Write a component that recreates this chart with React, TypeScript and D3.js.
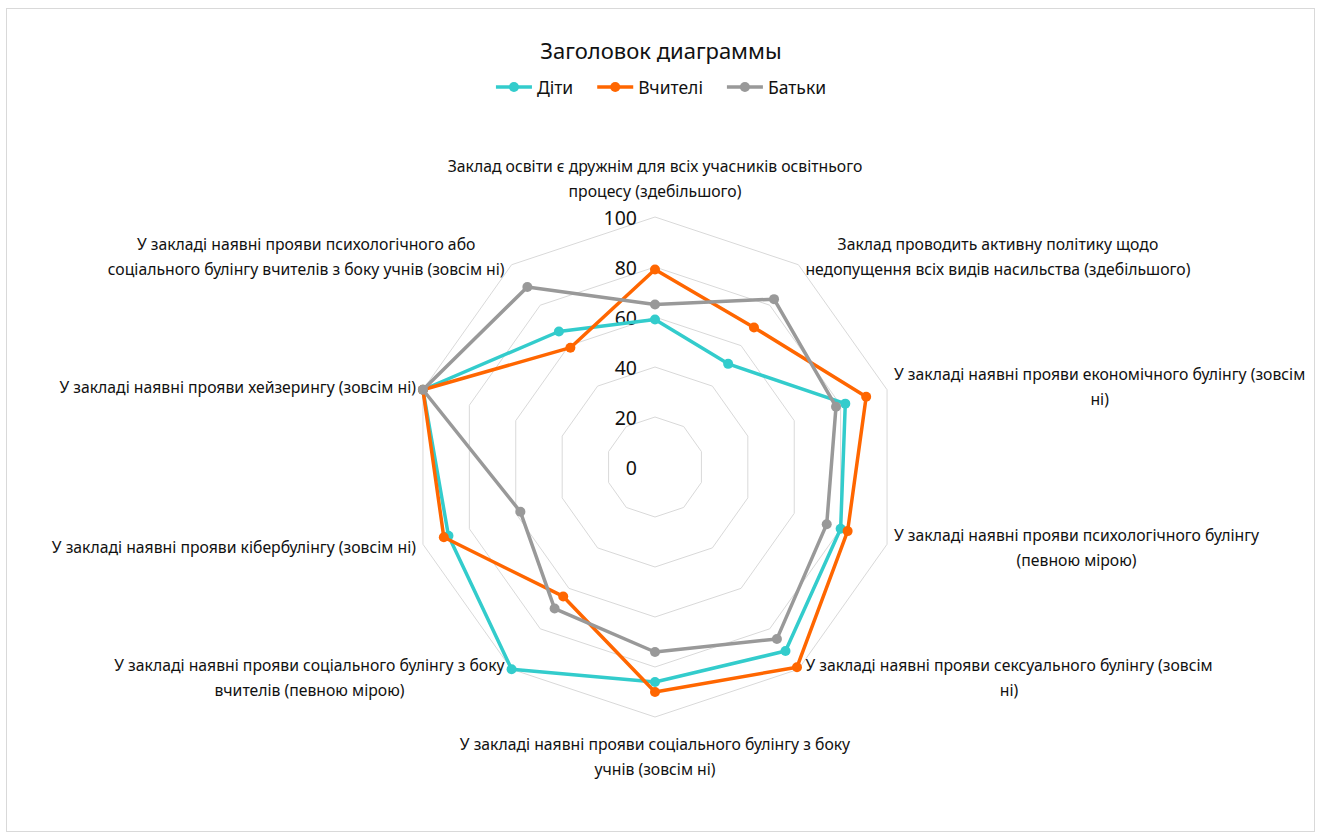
import React, { useEffect, useRef } from "react";
import * as d3 from "d3";

// Підписи осей (рядки так, як вони перенесені на діаграмі)
const categories: string[][] = [
  ["Заклад освіти є дружнім для всіх учасників освітнього", "процесу (здебільшого)"],
  ["Заклад проводить активну політику щодо", "недопущення всіх видів насильства (здебільшого)"],
  ["У закладі наявні прояви економічного булінгу (зовсім", "ні)"],
  ["У закладі наявні прояви психологічного булінгу", "(певною мірою)"],
  ["У закладі наявні прояви сексуального булінгу (зовсім", "ні)"],
  ["У закладі наявні прояви соціального булінгу з боку", "учнів (зовсім ні)"],
  ["У закладі наявні прояви соціального булінгу з боку", "вчителів (певною мірою)"],
  ["У закладі наявні прояви кібербулінгу (зовсім ні)"],
  ["У закладі наявні прояви хейзерингу (зовсім ні)"],
  ["У закладі наявні прояви психологічного або", "соціального булінгу вчителів з боку учнів (зовсім ні)"],
];

const seriesNames = ["Діти", "Вчителі", "Батьки"];
const kidsValues = [59, 51, 82, 80, 91, 86, 100, 89, 100, 67];
const teachersValues = [79, 69, 91, 83, 99, 90, 64, 91, 100, 59];
const parentsValues = [65, 83, 78, 74, 85, 74, 70, 58, 100, 89];
const seriesColors = ["#33CCCC", "#FF6600", "#999999"];
const tickValues = [0, 20, 40, 60, 80, 100];

const chartTitle = "Заголовок диаграммы";
const FONT = "'Noto Sans', 'Open Sans', sans-serif";

const App = () => {
  const svgRef = useRef<SVGSVGElement>(null);

  useEffect(() => {
    const cx = 655, cy = 467;
    const svg = d3.select(svgRef.current);
    svg.selectAll("*").remove();

    const allSeries = [kidsValues, teachersValues, parentsValues];
    const n = categories.length;
    const angle = (i: number) => (i * 2 * Math.PI) / n;

    // l'axe radial est un peu plus étroit en x qu'en y (comme dans l'original)
    const rx = d3.scaleLinear().domain([0, 100]).range([0, 244]);
    const ry = d3.scaleLinear().domain([0, 100]).range([0, 250]);
    const px = (v: number, i: number) => cx + rx(v) * Math.sin(angle(i));
    const py = (v: number, i: number) => cy - ry(v) * Math.cos(angle(i));

    // cadre
    svg.append("rect")
      .attr("x", 6.5).attr("y", 8.5)
      .attr("width", 1308).attr("height", 823)
      .attr("fill", "white")
      .attr("stroke", "#d9d9d9")
      .attr("stroke-width", 1);

    // titre
    svg.append("text")
      .attr("x", 661).attr("y", 50)
      .attr("text-anchor", "middle")
      .attr("dominant-baseline", "central")
      .style("font-family", FONT)
      .style("font-size", "22px")
      .attr("fill", "#111")
      .text(chartTitle);

    // légende
    const legend = svg.append("g");
    const items = seriesNames.map((name, k) => {
      const g = legend.append("g");
      g.append("line")
        .attr("x1", 0).attr("x2", 36).attr("y1", 0).attr("y2", 0)
        .attr("stroke", seriesColors[k]).attr("stroke-width", 3.5);
      g.append("circle")
        .attr("cx", 18).attr("cy", 0).attr("r", 5)
        .attr("fill", seriesColors[k]);
      const t = g.append("text")
        .attr("x", 41).attr("y", 0)
        .attr("dominant-baseline", "central")
        .style("font-family", FONT)
        .style("font-size", "17.5px")
        .attr("fill", "#111")
        .text(name);
      const w = 41 + (t.node() as SVGTextElement).getComputedTextLength();
      return { g, w };
    });
    const gap = 24;
    const total = d3.sum(items, (d) => d.w) + gap * (items.length - 1);
    let lx = 661 - total / 2;
    items.forEach((it) => {
      it.g.attr("transform", `translate(${lx},87)`);
      lx += it.w + gap;
    });

    // grille
    tickValues.filter((t) => t > 0).forEach((t) => {
      svg.append("path")
        .datum(d3.range(n))
        .attr("d", d3.line<number>()
          .x((i) => px(t, i))
          .y((i) => py(t, i))
          .curve(d3.curveLinearClosed))
        .attr("fill", "none")
        .attr("stroke", "#d9d9d9")
        .attr("stroke-width", 1);
    });

    // graduations
    svg.append("g")
      .selectAll("text")
      .data(tickValues)
      .join("text")
      .attr("x", cx - 18)
      .attr("y", (d) => cy - ry(d))
      .attr("text-anchor", "end")
      .attr("dominant-baseline", "central")
      .style("font-family", FONT)
      .style("font-size", "19.5px")
      .attr("fill", "#111")
      .text((d) => d);

    // séries
    allSeries.forEach((vals, k) => {
      const line = d3.line<number>()
        .x((v, i) => px(v, i))
        .y((v, i) => py(v, i))
        .curve(d3.curveLinearClosed);
      svg.append("path")
        .datum(vals)
        .attr("d", line)
        .attr("fill", "none")
        .attr("stroke", seriesColors[k])
        .attr("stroke-width", 3.5)
        .attr("stroke-linejoin", "round");
      svg.append("g")
        .selectAll("circle")
        .data(vals)
        .join("circle")
        .attr("cx", (v, i) => px(v, i))
        .attr("cy", (v, i) => py(v, i))
        .attr("r", 5)
        .attr("fill", seriesColors[k]);
    });

    // étiquettes des catégories
    const lineH = 25;
    categories.forEach((lines, i) => {
      const s = Math.sin(angle(i));
      const dy = -Math.cos(angle(i));
      const vx = px(100, i), vy = py(100, i);
      const g = svg.append("g");
      const texts = lines.map((l) =>
        g.append("text")
          .attr("text-anchor", "middle")
          .attr("dominant-baseline", "central")
          .style("font-family", FONT)
          .style("font-size", "15.75px")
          .attr("fill", "#111")
          .text(l)
      );
      const bw = d3.max(texts, (t) => (t.node() as SVGTextElement).getComputedTextLength()) || 0;
      const bh = lines.length * lineH;
      let bx: number, by: number;
      if (Math.abs(s) < 0.1) {
        bx = vx;
        by = vy + dy * (bh / 2 + 14);
      } else if (s > 0) {
        bx = vx + 7 + bw / 2;
        by = vy + dy * 10;
      } else {
        bx = vx - 7 - bw / 2;
        by = vy + dy * 10;
      }
      texts.forEach((t, j) => {
        t.attr("x", bx).attr("y", by + (j - (lines.length - 1) / 2) * lineH);
      });
    });
  }, []);

  return (
    <svg
      ref={svgRef}
      width={1322}
      height={840}
      style={{ position: "absolute", left: 0, top: 0, display: "block" }}
    />
  );
};

export default App;
